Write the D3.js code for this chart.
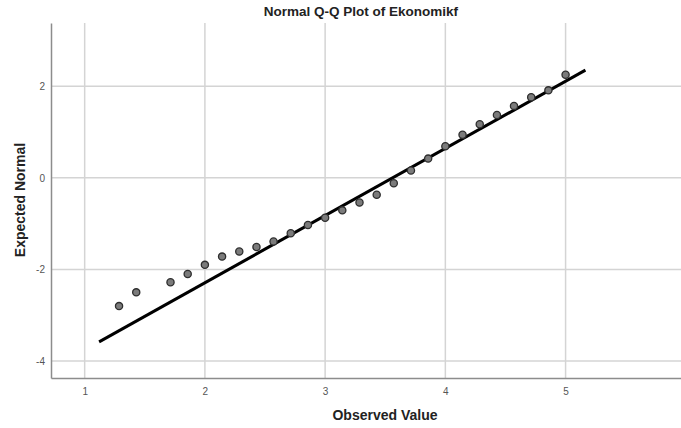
<!DOCTYPE html>
<html>
<head>
<meta charset="utf-8">
<script src="https://cdn.jsdelivr.net/npm/d3@7"></script>
<style>
  body { margin: 0; background: #fff; }
  svg { display: block; font-family: "Liberation Sans", Arial, sans-serif; }
</style>
</head>
<body>
<div id="chart"></div>
<script>
// observed scale means and their expected normal values
const observed = [1.286, 1.429, 1.714, 1.857, 2.0, 2.143, 2.286, 2.429, 2.571, 2.714, 2.857,
  3.0, 3.143, 3.286, 3.429, 3.571, 3.714, 3.857, 4.0, 4.143, 4.286, 4.429, 4.571, 4.714, 4.857, 5.0];
const expected = [-2.80, -2.50, -2.28, -2.10, -1.90, -1.72, -1.61, -1.51, -1.39, -1.21, -1.03,
  -0.87, -0.71, -0.54, -0.37, -0.12, 0.16, 0.42, 0.69, 0.94, 1.17, 1.37, 1.57, 1.76, 1.91, 2.25];
const xTicks = [1, 2, 3, 4, 5];
const yTicks = [2, 0, -2, -4];

// reference line y = (x - mean) / sd
const lineMean = 3.562;
const lineSd = 0.682;
const lineRange = [1.12, 5.165];

const width = 681, height = 428;
const margin = { top: 23, right: 0, bottom: 50, left: 51 };

const svg = d3.select("#chart").append("svg")
  .attr("width", width)
  .attr("height", height);

const x = d3.scaleLinear().domain([0.72, 5.96]).range([margin.left, width - margin.right]);
const y = d3.scaleLinear().domain([-4.37, 3.38]).range([height - margin.bottom, margin.top]);

// grid
svg.append("g").selectAll("line").data(xTicks).enter().append("line")
  .attr("x1", d => x(d)).attr("x2", d => x(d))
  .attr("y1", margin.top).attr("y2", height - margin.bottom)
  .attr("stroke", "#d4d4d4").attr("stroke-width", 1.5);

svg.append("g").selectAll("line").data(yTicks).enter().append("line")
  .attr("x1", margin.left).attr("x2", width)
  .attr("y1", d => y(d)).attr("y2", d => y(d))
  .attr("stroke", "#d4d4d4").attr("stroke-width", 1.5);

// axes
const xAxis = svg.append("g")
  .attr("transform", `translate(0,${height - margin.bottom})`)
  .call(d3.axisBottom(x).tickValues(xTicks).tickSize(0).tickPadding(10).tickFormat(d => d));
const yAxis = svg.append("g")
  .attr("transform", `translate(${margin.left},0)`)
  .call(d3.axisLeft(y).tickValues(yTicks).tickSize(0).tickPadding(6).tickFormat(d => d));

[xAxis, yAxis].forEach(a => {
  a.select(".domain").attr("stroke", "#8c8c8c").attr("stroke-width", 1.5);
  a.selectAll("text").attr("fill", "#555").style("font-size", "10px").style("font-family", "Liberation Sans, Arial, sans-serif");
});

// reference line
svg.append("line")
  .attr("x1", x(lineRange[0])).attr("y1", y((lineRange[0] - lineMean) / lineSd))
  .attr("x2", x(lineRange[1])).attr("y2", y((lineRange[1] - lineMean) / lineSd))
  .attr("stroke", "#000").attr("stroke-width", 3);

// points
svg.append("g").selectAll("circle").data(observed).enter().append("circle")
  .attr("cx", d => x(d))
  .attr("cy", (d, i) => y(expected[i]))
  .attr("r", 3.6)
  .attr("fill", "#7b7b7b")
  .attr("stroke", "#2e2e2e")
  .attr("stroke-width", 1.3);

// titles
svg.append("text")
  .attr("x", 361).attr("y", 16)
  .attr("text-anchor", "middle")
  .style("font-size", "13.5px").style("font-weight", "bold")
  .attr("fill", "#222")
  .text("Normal Q-Q Plot of Ekonomikf");

svg.append("text")
  .attr("x", 385).attr("y", 420)
  .attr("text-anchor", "middle")
  .style("font-size", "14px").style("font-weight", "bold")
  .attr("fill", "#222")
  .text("Observed Value");

svg.append("text")
  .attr("transform", "translate(25,200) rotate(-90)")
  .attr("text-anchor", "middle")
  .style("font-size", "14px").style("font-weight", "bold")
  .attr("fill", "#222")
  .text("Expected Normal");
</script>
</body>
</html>
